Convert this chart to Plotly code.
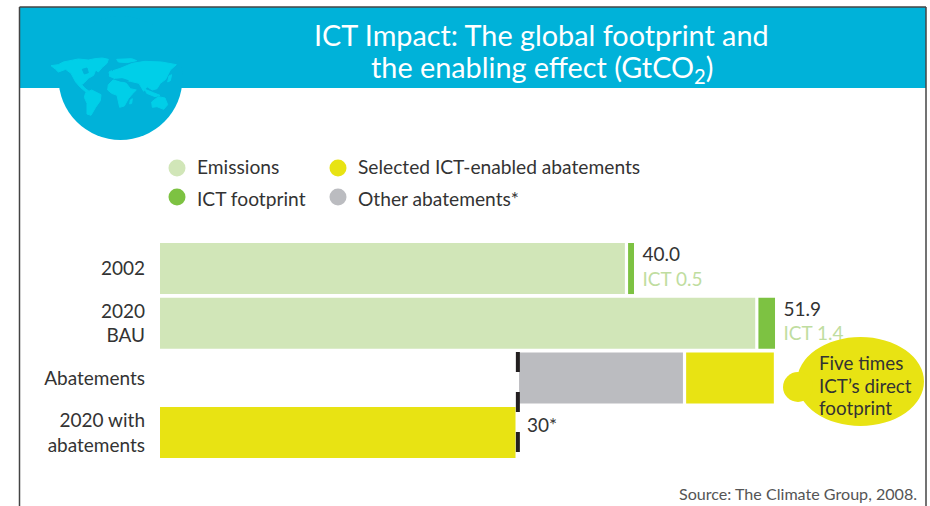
import plotly.graph_objects as go

categories = ["2002", "2020<br>BAU", "Abatements", "2020 with<br>abatements"]
emissions = [39.5, 50.5, None, None]
ict_footprint = [0.5, 1.4, None, None]
abate_base = [None, None, 30.3, None]
other_abatements = [None, None, 14.1, None]
selected_abatements = [None, None, 7.4, None]
with_abatements = [None, None, None, 30.0]
totals_x = [40.0, 51.9]
totals_cat = ["2002", "2020<br>BAU"]
totals_text = ["40.0", "51.9"]
ict_text = ["ICT 0.5", "ICT 1.4"]
abated_total = 30.0
abated_label = "30*"
legend_names = ["Emissions", "ICT footprint", "Selected ICT-enabled abatements", "Other abatements*"]
callout_lines = ["Five times", "ICT’s direct", "footprint"]

FONT = "Lato"
C_LIGHT, C_GREEN, C_YEL, C_GREY = "#D1E6B8", "#7DC242", "#E8E313", "#BBBCC0"
C_HEAD, C_MAP, C_TEXT = "#00B2D9", "#00CFE8", "#333333"
W, H = 930, 506
GAP = 0.27

def px(x): return x / W
def py(y): return 1 - y / H

fig = go.Figure()

def bar(x, base, color):
    fig.add_trace(go.Bar(y=categories, x=x, base=base, orientation="h",
                         marker=dict(color=color, line=dict(width=0)),
                         showlegend=False, hoverinfo="skip"))

bar([e - GAP if e else None for e in emissions], 0, C_LIGHT)
bar(ict_footprint, emissions, C_GREEN)
bar([v - GAP if v else None for v in other_abatements], abate_base, C_GREY)
bar(selected_abatements, [abate_base[2] + other_abatements[2] if b else None for b in abate_base], C_YEL)
bar(with_abatements, 0, C_YEL)

labels = [f"{t}<br><span style='color:#BFDDA0'>{i}</span>" for t, i in zip(totals_text, ict_text)]
fig.add_trace(go.Scatter(y=totals_cat, x=totals_x, mode="markers+text", text=labels,
                         textposition="middle right", cliponaxis=False,
                         marker=dict(size=12, opacity=0),
                         textfont=dict(family=FONT, size=19, color=C_TEXT),
                         showlegend=False, hoverinfo="skip"))

shapes = []
def rect(x0, y0, x1, y1, c):
    shapes.append(dict(type="rect", xref="paper", yref="paper", x0=px(x0), x1=px(x1),
                       y0=py(y0), y1=py(y1), fillcolor=c, line_width=0, layer="below"))
def ell(x0, y0, x1, y1, c, layer="above"):
    shapes.append(dict(type="circle", xref="paper", yref="paper", x0=px(x0), x1=px(x1),
                       y0=py(y0), y1=py(y1), fillcolor=c, line_width=0, layer=layer))

rect(19, 7, 926, 88, C_HEAD)
ell(58.5, 16, 182.5, 140, C_HEAD, "below")

# simplified continents (crop coordinates, 3x from origin 45,50)
continents = [
    ([(18,47),(40,44),(55,36),(75,32),(100,27),(130,30),(150,26),(172,24),(190,28),(186,40),(172,52),(160,66),(152,60),(146,76),(130,85),(118,98),(110,104),(120,115),(132,124),(124,127),(106,112),(92,96),(78,70),(62,58),(40,66),(32,58)], C_MAP),
    ([(112,58),(126,54),(130,68),(118,72)], C_HEAD),
    ([(122,128),(140,120),(168,134),(166,152),(152,172),(138,196),(126,192),(126,160),(118,142)], C_MAP),
    ([(190,104),(204,90),(226,94),(244,100),(256,116),(274,120),(262,132),(250,146),(238,168),(224,172),(216,136),(200,130),(188,120)], C_MAP),
    ([(192,78),(204,62),(226,55),(262,40),(300,34),(350,36),(394,44),(376,60),(362,88),(346,100),(336,116),(322,120),(306,110),(296,124),(282,100),(256,94),(236,90),(210,86)], C_MAP),
    ([(210,88),(232,86),(250,92),(228,94)], C_HEAD),
    ([(320,156),(340,140),(360,144),(368,164),(356,178),(336,170),(322,172)], C_MAP),
    ([(300,118),(325,128),(345,136),(330,140),(305,130)], C_MAP),
    ([(215,28),(260,26),(275,32),(245,38),(220,36)], C_MAP),
    ([(192,66),(200,62),(202,74),(194,76)], C_MAP),
    ([(256,150),(262,146),(260,160),(254,162)], C_MAP),
    ([(372,78),(380,74),(376,92),(368,96)], C_MAP),
]
for poly, col in continents:
    d = "M" + " L".join(f"{px(45 + a/3):.5f},{py(50 + b/3):.5f}" for a, b in poly) + " Z"
    shapes.append(dict(type="path", xref="paper", yref="paper", path=d, fillcolor=col,
                       line=dict(color=col, width=1), layer="below"))

# frame
for x0, y0, x1, y1 in [(19.5, 7, 926, 7), (19.5, 7, 19.5, 506), (926, 7, 926, 506)]:
    shapes.append(dict(type="line", xref="paper", yref="paper", x0=px(x0), x1=px(x1),
                       y0=py(y0), y1=py(y1), line=dict(color="#444444", width=1.5), layer="below"))

annotations = []
def note(text, x, y, size=19.2, color=C_TEXT, xanchor="left", align="left"):
    annotations.append(dict(text=text, xref="paper", yref="paper", x=px(x), y=py(y), showarrow=False,
                            xanchor=xanchor, yanchor="middle", align=align,
                            font=dict(family=FONT, size=size, color=color)))

# legend
for name, cx, cy, c, tx, ty in [
    (legend_names[0], 177, 168, C_LIGHT, 195, 166),
    (legend_names[1], 177, 197, C_GREEN, 195, 198.5),
    (legend_names[2], 338, 168, C_YEL, 356, 166),
    (legend_names[3], 338, 197, C_GREY, 356, 198.5)]:
    ell(cx - 8.5, cy - 8.5, cx + 8.5, cy + 8.5, c, "below")
    note(name, tx, ty)

# dashed reference line at the abated level
shapes.append(dict(type="line", xref="x", yref="paper", x0=30.2, x1=30.2, y0=py(352), y1=py(452),
                   line=dict(color="#231F20", width=4, dash="20px,20px"), layer="above"))

annotations.append(dict(text=abated_label, xref="x", yref="y", x=abated_total, y=categories[3],
                        xanchor="left", yanchor="middle", xshift=9, yshift=8, showarrow=False,
                        font=dict(family=FONT, size=19, color=C_TEXT)))

# callout
ell(797, 337, 924, 426, C_YEL)
ell(783, 372, 813, 402, C_YEL)
for line, ly in zip(callout_lines, [362.5, 385, 407]):
    note(line, 817, ly, size=18.8)

note("ICT Impact: The global footprint and", 541.5, 35, size=28.8, color="white", xanchor="center", align="center")
note("the enabling effect (GtCO<sub>2</sub>)", 541.5, 69, size=28.8, color="white", xanchor="center", align="center")
note("Source: The Climate Group, 2008.", 919, 493, size=16.1, color="#555555", xanchor="right")

fig.update_layout(
    width=W, height=H, margin=dict(l=0, r=0, t=0, b=0), autosize=False,
    paper_bgcolor="white", plot_bgcolor="rgba(0,0,0,0)",
    barmode="overlay", bargap=0.067, showlegend=False,
    shapes=shapes, annotations=annotations,
    xaxis=dict(domain=[px(160), px(926)], range=[0, 766 / 11.85], visible=False, fixedrange=True),
    yaxis=dict(domain=[py(459.9), py(241.2)], categoryorder="array", categoryarray=categories,
               autorange="reversed", showgrid=False, zeroline=False, showline=False, ticks="",
               anchor="x", position=0, ticklabelposition="outside", ticklabelstandoff=14,
               tickfont=dict(family=FONT, size=19, color=C_TEXT)),
    font=dict(family=FONT),
)
fig.write_html("out.html", post_script="document.body.style.margin='0';", config=dict(displayModeBar=False))
